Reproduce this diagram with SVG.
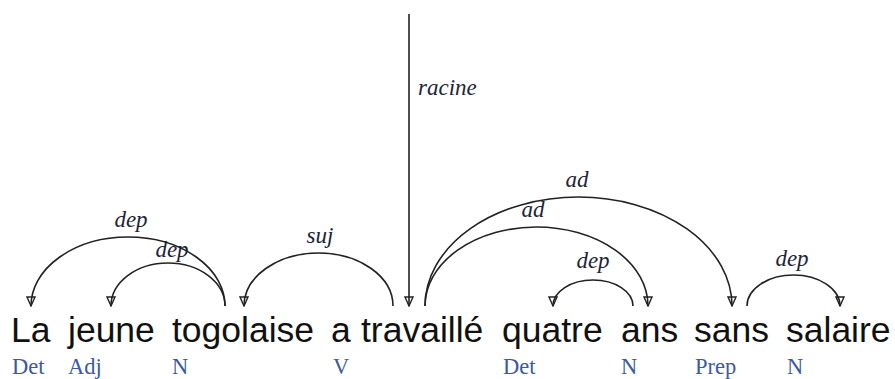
<svg xmlns="http://www.w3.org/2000/svg" width="895" height="379" viewBox="0 0 895 379">
<style>
.word{font-family:"Liberation Sans",Arial,sans-serif;font-size:35.5px;fill:#111}
.pos{font-family:"Liberation Serif","Times New Roman",serif;font-size:22.5px;fill:#3b5aa0}
.lab{font-family:"Liberation Serif","Times New Roman",serif;font-size:23px;font-style:italic;fill:#1e2438;text-anchor:middle}
.arc{fill:none;stroke:#222;stroke-width:1.6;marker-end:url(#ah)}
</style>
<defs>
<marker id="ah" viewBox="-1 -5 11 10" refX="9" refY="0" markerWidth="11" markerHeight="10" markerUnits="userSpaceOnUse" orient="auto">
<path d="M0,-4 L9,0 L0,4 Z" fill="none" stroke="#222" stroke-width="1.4"/>
</marker>
</defs>
<rect width="895" height="379" fill="#fff"/>
<g id="connectors">
<path class="arc" d="M225,306 A97,69 0 0 0 31,306"/>
<path class="arc" d="M225,306 A57,43 0 0 0 111,306"/>
<path class="arc" d="M393,306 A74.5,53 0 0 0 244,306"/>
<path class="arc" d="M409,14 L409,306"/>
<path class="arc" d="M425,306 A111.5,79 0 0 1 648,306"/>
<path class="arc" d="M425,306 A153.5,109 0 0 1 732,306"/>
<path class="arc" d="M633,306 A40,26 0 0 0 553,306"/>
<path class="arc" d="M747,306 A46.5,31 0 0 1 840,306"/>
<text class="lab" x="131" y="227">dep</text>
<text class="lab" x="172" y="257">dep</text>
<text class="lab" x="320" y="243">suj</text>
<text class="lab" x="418" y="95" style="text-anchor:start">racine</text>
<text class="lab" x="577" y="187">ad</text>
<text class="lab" x="533" y="217">ad</text>
<text class="lab" x="593" y="268">dep</text>
<text class="lab" x="792" y="266">dep</text>
</g>
<g id="w1"><text class="word" x="11" y="342">La</text><text class="pos" x="12" y="374">Det</text></g>
<g id="w2"><text class="word" x="68" y="342">jeune</text><text class="pos" x="68" y="374">Adj</text></g>
<g id="w3"><text class="word" x="172" y="342">togolaise</text><text class="pos" x="172" y="374">N</text></g>
<g id="w4"><text class="word" x="331" y="342">a</text><text class="pos" x="333" y="374">V</text></g>
<g id="w5"><text class="word" x="361" y="342">travaillé</text></g>
<g id="w6"><text class="word" x="502" y="342">quatre</text><text class="pos" x="503" y="374">Det</text></g>
<g id="w7"><text class="word" x="621" y="342">ans</text><text class="pos" x="621" y="374">N</text></g>
<g id="w8"><text class="word" x="694" y="342">sans</text><text class="pos" x="695" y="374">Prep</text></g>
<g id="w9"><text class="word" x="786" y="342">salaire</text><text class="pos" x="787" y="374">N</text></g>
</svg>
